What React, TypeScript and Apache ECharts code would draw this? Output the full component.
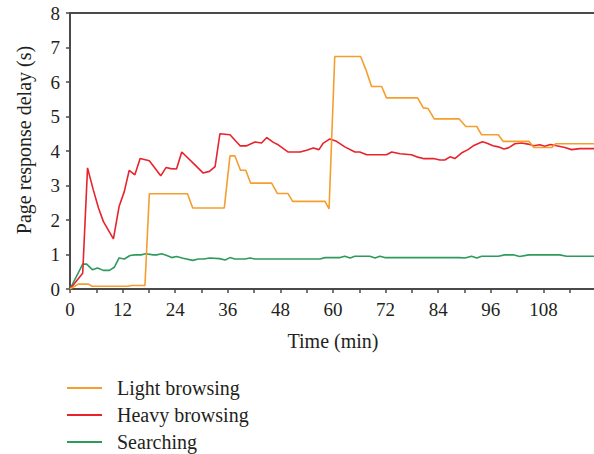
import React, { useEffect, useRef } from "react";
import * as echarts from "echarts";

// Light browsing (orange)
const lightT = [0, 1.9, 4.2, 5.0, 13.3, 14.1, 17.1, 18.1, 26.8, 28.0, 35.2, 36.5, 37.6, 38.9, 40.1, 41.2, 46.0, 47.3, 49.7, 50.8, 58.2, 59.1, 60.4, 66.3, 67.5, 68.8, 71.1, 72.2, 79.3, 80.6, 81.7, 83.1, 88.8, 90.3, 92.8, 93.9, 97.7, 98.8, 104.7, 105.8, 109.9, 110.8, 120];
const lightV = [0, 0.14, 0.14, 0.08, 0.08, 0.1, 0.1, 2.76, 2.76, 2.35, 2.35, 3.86, 3.86, 3.44, 3.44, 3.07, 3.07, 2.77, 2.77, 2.54, 2.54, 2.32, 6.74, 6.74, 6.36, 5.87, 5.87, 5.54, 5.54, 5.25, 5.23, 4.93, 4.93, 4.71, 4.71, 4.47, 4.47, 4.28, 4.28, 4.1, 4.1, 4.21, 4.21];

// Heavy browsing (red)
const heavyT = [0, 2.9, 4.0, 5.3, 6.5, 7.6, 9.9, 11.2, 12.4, 13.5, 14.8, 16.0, 18.1, 20.7, 21.9, 23.0, 24.3, 25.5, 28.1, 30.4, 31.8, 33.1, 34.2, 36.5, 38.8, 40.3, 42.2, 43.7, 44.9, 46.4, 47.5, 49.8, 52.5, 54.0, 55.5, 56.8, 57.8, 59.3, 60.8, 62.7, 65.0, 66.1, 67.7, 72.2, 73.4, 75.3, 77.9, 79.1, 80.6, 82.9, 84.4, 85.5, 86.7, 87.8, 89.3, 90.8, 92.0, 94.1, 95.0, 96.5, 97.7, 99.0, 100.0, 101.5, 103.0, 104.5, 105.8, 107.2, 108.3, 109.6, 111.0, 112.9, 114.4, 116.3, 120];
const heavyV = [0, 0.46, 3.51, 2.88, 2.35, 1.96, 1.45, 2.39, 2.83, 3.44, 3.31, 3.78, 3.72, 3.28, 3.52, 3.49, 3.48, 3.97, 3.65, 3.36, 3.41, 3.55, 4.5, 4.47, 4.15, 4.15, 4.26, 4.23, 4.39, 4.25, 4.18, 3.97, 3.97, 4.02, 4.09, 4.04, 4.23, 4.35, 4.28, 4.12, 3.97, 3.97, 3.89, 3.89, 3.97, 3.92, 3.89, 3.83, 3.78, 3.78, 3.74, 3.74, 3.83, 3.78, 3.94, 4.04, 4.15, 4.27, 4.23, 4.15, 4.12, 4.06, 4.09, 4.21, 4.23, 4.2, 4.15, 4.18, 4.14, 4.19, 4.15, 4.1, 4.04, 4.07, 4.07];

// Searching (green)
const searchT = [0, 2.9, 3.8, 5.1, 6.3, 7.6, 9.0, 10.1, 11.2, 12.4, 13.7, 14.8, 16.2, 17.3, 19.0, 19.8, 20.9, 22.1, 23.2, 24.3, 25.8, 28.0, 29.3, 30.6, 31.8, 34.1, 35.4, 36.5, 37.6, 39.9, 41.1, 42.2, 57.0, 58.2, 61.6, 62.7, 63.9, 65.0, 68.4, 69.6, 70.7, 71.8, 88.9, 90.1, 91.6, 92.8, 93.9, 97.7, 99.2, 101.1, 102.6, 104.7, 111.7, 113.3, 120];
const searchV = [0, 0.72, 0.72, 0.56, 0.61, 0.54, 0.54, 0.63, 0.9, 0.87, 0.97, 0.99, 0.99, 1.02, 0.99, 0.99, 1.02, 0.97, 0.91, 0.94, 0.89, 0.83, 0.87, 0.87, 0.9, 0.88, 0.84, 0.91, 0.87, 0.87, 0.9, 0.87, 0.87, 0.91, 0.91, 0.95, 0.9, 0.95, 0.95, 0.9, 0.95, 0.91, 0.91, 0.9, 0.95, 0.9, 0.95, 0.95, 0.99, 0.99, 0.94, 0.99, 0.99, 0.95, 0.95];

const seriesNames = ["Light browsing", "Heavy browsing", "Searching"];
const seriesColors = ["#F59E2E", "#E8232B", "#2E9A5C"];

const zip = (t: number[], v: number[]) => t.map((x, i) => [x, v[i]]);

const FONT = "Liberation Serif, DejaVu Serif, serif";
const TEXT = "#231f20";
const AXIS = "#4a4a4a";

export default function App() {
  const ref = useRef<HTMLDivElement>(null);
  useEffect(() => {
    if (!ref.current) return;
    const chart = echarts.init(ref.current, undefined, { renderer: "svg" });
    const data = [zip(lightT, lightV), zip(heavyT, heavyV), zip(searchT, searchV)];
    chart.setOption({
      animation: false,
      textStyle: { fontFamily: FONT, color: TEXT },
      grid: { left: 70, right: 4, top: 13, bottom: 165 },
      legend: {
        orient: "vertical",
        left: 66,
        top: 378,
        padding: 0,
        height: 76,
        itemWidth: 35,
        itemHeight: 10,
        itemGap: 7,
        data: seriesNames,
        itemStyle: { opacity: 0 },
        textStyle: { fontFamily: FONT, fontSize: 20, color: TEXT, lineHeight: 20, padding: [0, 0, 0, 10] },
      },
      xAxis: [
        {
          type: "value",
          min: 0,
          max: 120,
          interval: 6,
          name: "Time (min)",
          nameLocation: "middle",
          nameGap: 42,
          nameTextStyle: { fontFamily: FONT, fontSize: 20, color: TEXT },
          axisLine: { show: true, lineStyle: { color: AXIS, width: 2 } },
          axisTick: { show: true, length: 4, lineStyle: { color: AXIS, width: 1.5 } },
          axisLabel: {
            fontFamily: FONT,
            fontSize: 19,
            color: TEXT,
            margin: 11,
            showMaxLabel: false,
            formatter: (v: number) => (v % 12 === 0 ? String(v) : ""),
          },
          splitLine: { show: false },
        },
        {
          type: "value",
          position: "top",
          min: 0,
          max: 120,
          axisLine: { show: true, lineStyle: { color: AXIS, width: 2 } },
          axisTick: { show: false },
          axisLabel: { show: false },
          splitLine: { show: false },
        },
      ],
      yAxis: {
        type: "value",
        min: 0,
        max: 8,
        interval: 1,
        name: "Page response delay (s)",
        nameLocation: "middle",
        nameGap: 36,
        nameTextStyle: { fontFamily: FONT, fontSize: 20, color: TEXT, padding: [0, 0, 0, 22] },
        axisLine: { show: true, lineStyle: { color: AXIS, width: 2 } },
        axisTick: { show: true, length: 4, lineStyle: { color: AXIS, width: 1.5 } },
        axisLabel: { fontFamily: FONT, fontSize: 19, color: TEXT, margin: 10 },
        splitLine: { show: false },
      },
      series: seriesNames.map((name, i) => ({
        name,
        type: "line",
        xAxisIndex: 0,
        data: data[i],
        symbol: "none",
        color: seriesColors[i],
        lineStyle: { color: seriesColors[i], width: 1.6 },
        z: 3 - i,
      })),
    });
    return () => chart.dispose();
  }, []);
  return (
    <div style={{ position: "absolute", left: 0, top: 0, width: 594, height: 454, overflow: "hidden", background: "#fff" }}>
      <div ref={ref} style={{ width: 600, height: 454 }} />
    </div>
  );
}
